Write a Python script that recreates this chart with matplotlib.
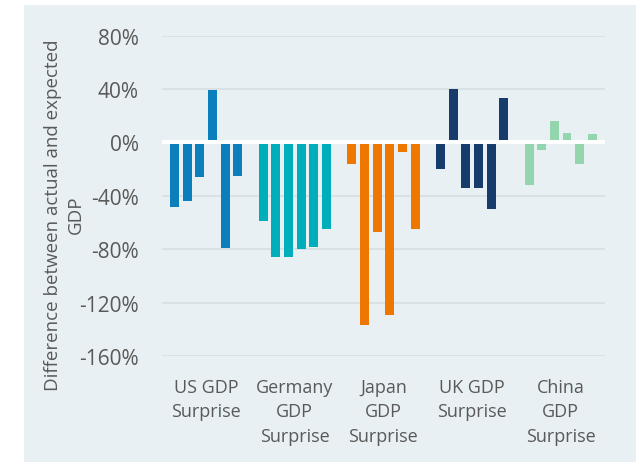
import matplotlib
matplotlib.use("Agg")
import matplotlib.pyplot as plt
from matplotlib.patches import Rectangle

categories = ["US GDP\nSurprise", "Germany\nGDP\nSurprise", "Japan\nGDP\nSurprise",
              "UK GDP\nSurprise", "China\nGDP\nSurprise"]
us = [-48, -44, -26, 39.5, -79, -25]
germany = [-58.5, -85.5, -85.5, -79.5, -78, -64.5]
japan = [-16.5, -136.5, -67, -129, -7.5, -64.5]
uk = [-20, 40.3, -34, -34, -50, 33.5]
china = [-31.5, -5.5, 16, 7, -16.5, 6.5]
series = [us, germany, japan, uk, china]
colors = ["#0B7EBC", "#00ADBA", "#EE7700", "#173C6C", "#93D5AD"]
yticks = [80, 40, 0, -40, -80, -120, -160]

plt.rcParams['font.family'] = ['Open Sans', 'DejaVu Sans']
text_color = "#595959"

fig = plt.figure(figsize=(6.39, 4.64), dpi=100)
fig.patch.set_facecolor("white")
bg = Rectangle((24 / 639, 1 - 463 / 464), (636 - 24) / 639, (463 - 6) / 464,
               transform=fig.transFigure, facecolor="#E8F0F3",
               edgecolor="none", zorder=-10)
fig.add_artist(bg)

ax = fig.add_axes([161.7 / 639, 1 - 357 / 464, (605 - 161.7) / 639, (357 - 36.7) / 464])
ax.set_facecolor("none")
ax.set_zorder(5)

slots = 7
for i, vals in enumerate(series):
    xs = [i * slots + j for j in range(len(vals))]
    ax.bar(xs, vals, width=0.71, color=colors[i], zorder=2)

for t in yticks:
    if t != 0:
        ax.axhline(t, color="#D8DEE1", linewidth=1.2, zorder=1)
ax.axhline(0, color="white", linewidth=2.9, zorder=3)

ax.set_xlim(-1, 34)
ax.set_ylim(-160, 80)
ax.set_yticks(yticks)
ax.set_yticklabels([f"{t}%" for t in yticks], fontsize=15, color=text_color)
ax.set_xticks([i * slots + 2.5 for i in range(len(categories))])
ax.set_xticklabels(categories, fontsize=13, color=text_color, linespacing=1.47)
ax.tick_params(axis="y", length=0, pad=16.5)
ax.tick_params(axis="x", length=0, pad=15.5)
for s in ax.spines.values():
    s.set_visible(False)

fig.text(64 / 639, 1 - 215 / 464, "Difference between actual and expected\nGDP",
         rotation=90, ha="center", va="center", multialignment="center",
         fontsize=13.5, color=text_color, linespacing=1.35)

fig.savefig("out.png", dpi=100, facecolor="white")
